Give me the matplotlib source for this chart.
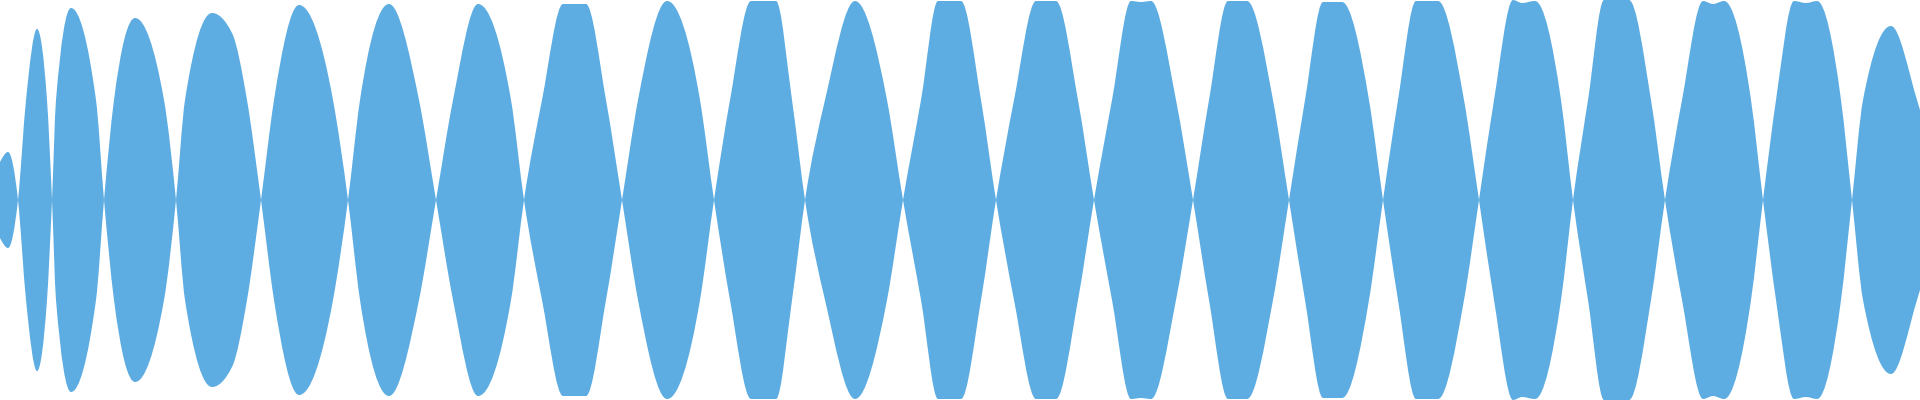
"""Render the symmetric waveform strip as out.png."""

from __future__ import annotations

import matplotlib

matplotlib.use("Agg")

import matplotlib.pyplot as plt
import numpy as np
from matplotlib.patches import PathPatch
from matplotlib.path import Path

# Envelope samples: position along the strip and half-height of the band.
# A zero marks a node where the band pinches shut between two lobes.
env_x = [
    0, 8, 18,
    26, 37, 47, 52,
    56, 71, 96, 104,
    114, 135, 164, 176,
    185, 212, 232, 247, 261,
    274, 299, 333, 348,
    360, 389, 419, 436,
    453, 478, 511, 524,
    542, 563, 586, 606, 622,
    638, 667, 700, 714,
    730, 751, 776, 792, 805,
    825, 855, 887, 903,
    921, 938, 961, 981, 996,
    1014, 1036, 1056, 1078, 1094,
    1112, 1131, 1141, 1151, 1176, 1193,
    1209, 1228, 1247, 1273, 1289,
    1305, 1323, 1342, 1369, 1383,
    1398, 1416, 1438, 1464, 1479,
    1494, 1513, 1522, 1535, 1561, 1573,
    1588, 1604, 1629, 1651, 1665,
    1682, 1703, 1713, 1724, 1751, 1763,
    1776, 1794, 1806, 1817, 1841, 1852,
    1863, 1891, 1917, 1920,
]
env_h = [
    38, 48, 0,
    100, 171, 100, 0,
    100, 192, 100, 0,
    100, 182, 100, 0,
    100, 187, 167, 100, 0,
    100, 195, 100, 0,
    100, 196, 100, 0,
    100, 196, 100, 0,
    100, 196, 196, 100, 0,
    100, 199, 100, 0,
    100, 199, 199, 100, 0,
    100, 199, 100, 0,
    100, 199, 199, 100, 0,
    100, 199, 199, 100, 0,
    100, 199, 198, 199, 100, 0,
    100, 199, 199, 100, 0,
    100, 198, 198, 100, 0,
    100, 199, 199, 100, 0,
    100, 200, 197, 199, 100, 0,
    100, 200, 200, 100, 0,
    100, 199, 196, 199, 100, 0,
    100, 199, 197, 199, 100, 0,
    100, 174, 100, 90,
]

FILL_COLOR = "#5dade2"


def _signed(heights: list[float]) -> np.ndarray:
    """Flip sign after every node so the band crosses itself at each pinch."""
    out = []
    sign = 1.0
    for value in heights:
        out.append(sign * value)
        if value == 0:
            sign = -sign
    return np.array(out, dtype=np.float64)


def _monotone_tangents(xs: np.ndarray, ys: np.ndarray) -> np.ndarray:
    """Tangents for a monotone cubic curve (same rule as curveMonotoneX)."""
    h = np.diff(xs)
    s = np.diff(ys) / h
    t = np.zeros_like(ys)
    for i in range(1, len(xs) - 1):
        s0, s1 = s[i - 1], s[i]
        p = (s0 * h[i] + s1 * h[i - 1]) / (h[i - 1] + h[i])
        t[i] = (np.sign(s0) + np.sign(s1)) * min(abs(s0), abs(s1), 0.5 * abs(p))
    t[0] = (3 * s[0] - t[1]) / 2
    t[-1] = (3 * s[-1] - t[-2]) / 2
    return t


def _band_path(xs: np.ndarray, ys: np.ndarray) -> Path:
    """Closed path: curve along +y going right, mirrored curve back along -y."""
    t = _monotone_tangents(xs, ys)
    verts = [(xs[0], ys[0])]
    codes = [Path.MOVETO]
    for i in range(len(xs) - 1):
        dx = (xs[i + 1] - xs[i]) / 3
        verts += [
            (xs[i] + dx, ys[i] + t[i] * dx),
            (xs[i + 1] - dx, ys[i + 1] - t[i + 1] * dx),
            (xs[i + 1], ys[i + 1]),
        ]
        codes += [Path.CURVE4] * 3
    verts.append((xs[-1], -ys[-1]))
    codes.append(Path.LINETO)
    for i in range(len(xs) - 1, 0, -1):
        dx = (xs[i] - xs[i - 1]) / 3
        verts += [
            (xs[i] - dx, -(ys[i] - t[i] * dx)),
            (xs[i - 1] + dx, -(ys[i - 1] + t[i - 1] * dx)),
            (xs[i - 1], -ys[i - 1]),
        ]
        codes += [Path.CURVE4] * 3
    verts.append((xs[0], ys[0]))
    codes.append(Path.CLOSEPOLY)
    return Path(verts, codes)


def main() -> None:
    xs = np.array(env_x, dtype=np.float64)
    ys = _signed(env_h)

    figure = plt.figure(figsize=(19.2, 4.0), dpi=100)
    axis = figure.add_axes([0, 0, 1, 1])
    axis.add_patch(PathPatch(_band_path(xs, ys), facecolor=FILL_COLOR, edgecolor="none"))
    axis.set_xlim(0, 1920)
    axis.set_ylim(-200, 200)
    axis.axis("off")
    figure.savefig("out.png", dpi=100, facecolor="white")
    plt.close(figure)


if __name__ == "__main__":
    main()
